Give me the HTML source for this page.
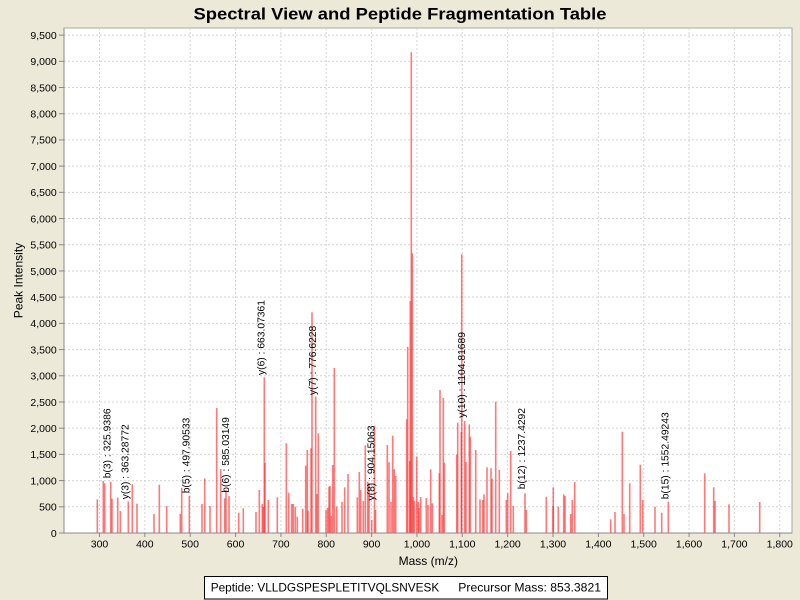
<!DOCTYPE html>
<html><head><meta charset="utf-8"><style>
html,body{margin:0;padding:0;background:#ECE9D8;}
svg{display:block;font-family:"Liberation Sans",Arial,sans-serif;}
</style></head><body>
<svg width="800" height="600" viewBox="0 0 800 600" xmlns="http://www.w3.org/2000/svg">
<rect x="0" y="0" width="800" height="600" fill="#ECE9D8"/>
<text x="400" y="19.3" text-anchor="middle" font-size="16.5" font-weight="bold" textLength="413" lengthAdjust="spacingAndGlyphs" fill="#000">Spectral View and Peptide Fragmentation Table</text>
<rect x="64" y="28" width="728" height="505" fill="#fff" stroke="#A8A8A8" stroke-width="1"/>
<g id="grid" stroke="#D4D4D4" stroke-width="1" stroke-dasharray="2,2" fill="none"></g>
<g id="peaks"></g>
<g id="axes"></g>
<g id="labels" font-size="10.3" fill="#000"></g>
<text transform="translate(22.6,280.5) rotate(-90)" text-anchor="middle" font-size="12" fill="#000">Peak Intensity</text>
<text x="428.3" y="565" text-anchor="middle" font-size="12" fill="#000">Mass (m/z)</text>
<rect x="204.5" y="576.5" width="403" height="22.5" fill="#fff" stroke="#000" stroke-width="1"/>
<text x="210.7" y="591.7" font-size="12" textLength="228.6" lengthAdjust="spacingAndGlyphs" fill="#000">Peptide: VLLDGSPESPLETITVQLSNVESK</text>
<text x="458.3" y="591.7" font-size="12" textLength="142.7" lengthAdjust="spacingAndGlyphs" fill="#000">Precursor Mass: 853.3821</text>
</svg>
<script>
(function(){
var NS="http://www.w3.org/2000/svg";
function el(t,a,p,txt){var e=document.createElementNS(NS,t);for(var k in a)e.setAttribute(k,a[k]);if(txt!==undefined)e.textContent=txt;p.appendChild(e);return e;}
var grid=document.getElementById('grid'),axes=document.getElementById('axes'),peaksG=document.getElementById('peaks'),labels=document.getElementById('labels');
function yv(v){return 533-v*0.05241;}
function xm(m){return 99.5+(m-300)*0.4535;}
function fmt(n){return n.toString().replace(/\B(?=(\d{3})+(?!\d))/g,",");}
for(var v=500;v<=9500;v+=500){var y=yv(v);el('line',{x1:64,x2:792,y1:y,y2:y},grid);}
for(var m=300;m<=1800;m+=100){var x=xm(m);el('line',{x1:x,x2:x,y1:28,y2:533},grid);}
var P=[[97.3,499.3],[103.3,481],[104.7,483.3],[110.7,481.7],[112,498.7],[117.7,497.7],[120.3,511],[128.3,501.3],[132.3,484.3],[137,503.7],[154,514],[159.3,484.7],[166.7,506],[180.3,514],[181.7,487.7],[189.3,495.7],[202,504],[204.7,478.3],[210,506],[216.7,408],[220.7,469],[224.7,498.3],[226,490],[229,496],[238.7,512.7],[243.3,508.3],[256,512],[259.3,490],[262.3,504],[263.3,507],[264.3,377.3],[265,463],[268.3,500],[277.3,497.3],[286.3,443.3],[288.7,492.7],[291.7,504],[293.3,504],[295.3,506.7],[297.3,516.7],[302.7,508.7],[305.7,465.7],[307.3,450],[308,510.7],[311,448.3],[312,312.3],[315.7,396.7],[317,494],[318.3,433.3],[326,510],[327.7,508],[329,486.7],[330,486],[331.3,516],[332.7,465],[334.3,368],[336.7,506.7],[342,502],[344.7,487.3],[348,474],[357.3,497.3],[359.3,472],[360.7,490],[363.3,501],[365.3,445.3],[367.7,481.7],[369,483],[371.7,520],[374.5,425.7],[375.5,510],[387.3,445],[389,462.3],[391,502],[392.7,435.7],[394.3,469.3],[395.7,476],[406.7,419.3],[407.7,346.7],[409.7,461],[410.3,301],[411.3,52.3],[412.3,253.3],[413.3,497],[414.3,501],[416.7,456.7],[418.3,502],[419,508],[420.7,497],[426.3,498],[428,505],[430.7,469.3],[432.3,503.3],[439.3,473.3],[440,390],[442,515],[443.3,398],[444.3,462.7],[456.7,454.7],[457.7,422.7],[461.3,432],[461.7,254.3],[464.7,421],[466,462],[469.3,424.3],[470.3,436.7],[475.7,450],[480,499.3],[482.7,500],[484,494.3],[487,467.3],[491,468.3],[492,478.7],[495.7,401.7],[499.3,470],[506.3,500],[507.7,493.3],[510.7,451],[513.3,506],[525,493.3],[526.3,510],[546.3,496.7],[553,506],[553.3,487.3],[558.3,506.7],[563.7,494.3],[565,496],[570.7,514],[572.3,500],[574.7,482],[610.7,519.3],[615,512],[622.3,431.7],[624,514],[629.7,483.3],[640.3,464.7],[642.7,500],[655,506.7],[661.7,512.7],[668.3,501.7],[704.7,473.3],[713.7,487.3],[715,501],[729,504.3],[759.7,502]];
P.forEach(function(p){el('rect',{x:p[0]-0.8,y:p[1],width:1.6,height:533-p[1],fill:'#ff2020','fill-opacity':0.6},peaksG);});
el('line',{x1:64,x2:64,y1:28,y2:533,stroke:'#888',"stroke-width":1},axes);
el('line',{x1:64,x2:792,y1:533,y2:533,stroke:'#888',"stroke-width":1},axes);
for(var v=0;v<=9500;v+=500){var y=yv(v);el('line',{x1:59,x2:64,y1:y,y2:y,stroke:'#888'},axes);
 el('text',{x:56.7,y:y+3.8,"text-anchor":"end","font-size":"10.5",fill:'#000'},axes,fmt(v));}
for(var m=300;m<=1800;m+=100){var x=xm(m);el('line',{x1:x,x2:x,y1:533,y2:537,stroke:'#888'},axes);
 el('text',{x:x,y:547.5,"text-anchor":"middle","font-size":"10.5",fill:'#000'},axes,fmt(m));}
var L=[["b(3) : 325.9386",110.7,478.3],["y(3) : 363.28772",128.3,499.3],["b(5) : 497.90533",189.3,493.3],["b(6) : 585.03149",229,492.7],["y(6) : 663.07361",264.3,375],["y(7) : 776.6228",316,395],["y(8) : 904.15063",374.5,500.5],["y(10) : 1104.81689",465,417.7],["b(12) : 1237.4292",525,489.3],["b(15) : 1552.49243",668.3,499.3]];
L.forEach(function(l){el('text',{transform:'translate('+l[1]+','+l[2]+') rotate(-90)'},labels,l[0]);});
})();
</script>
</body></html>
